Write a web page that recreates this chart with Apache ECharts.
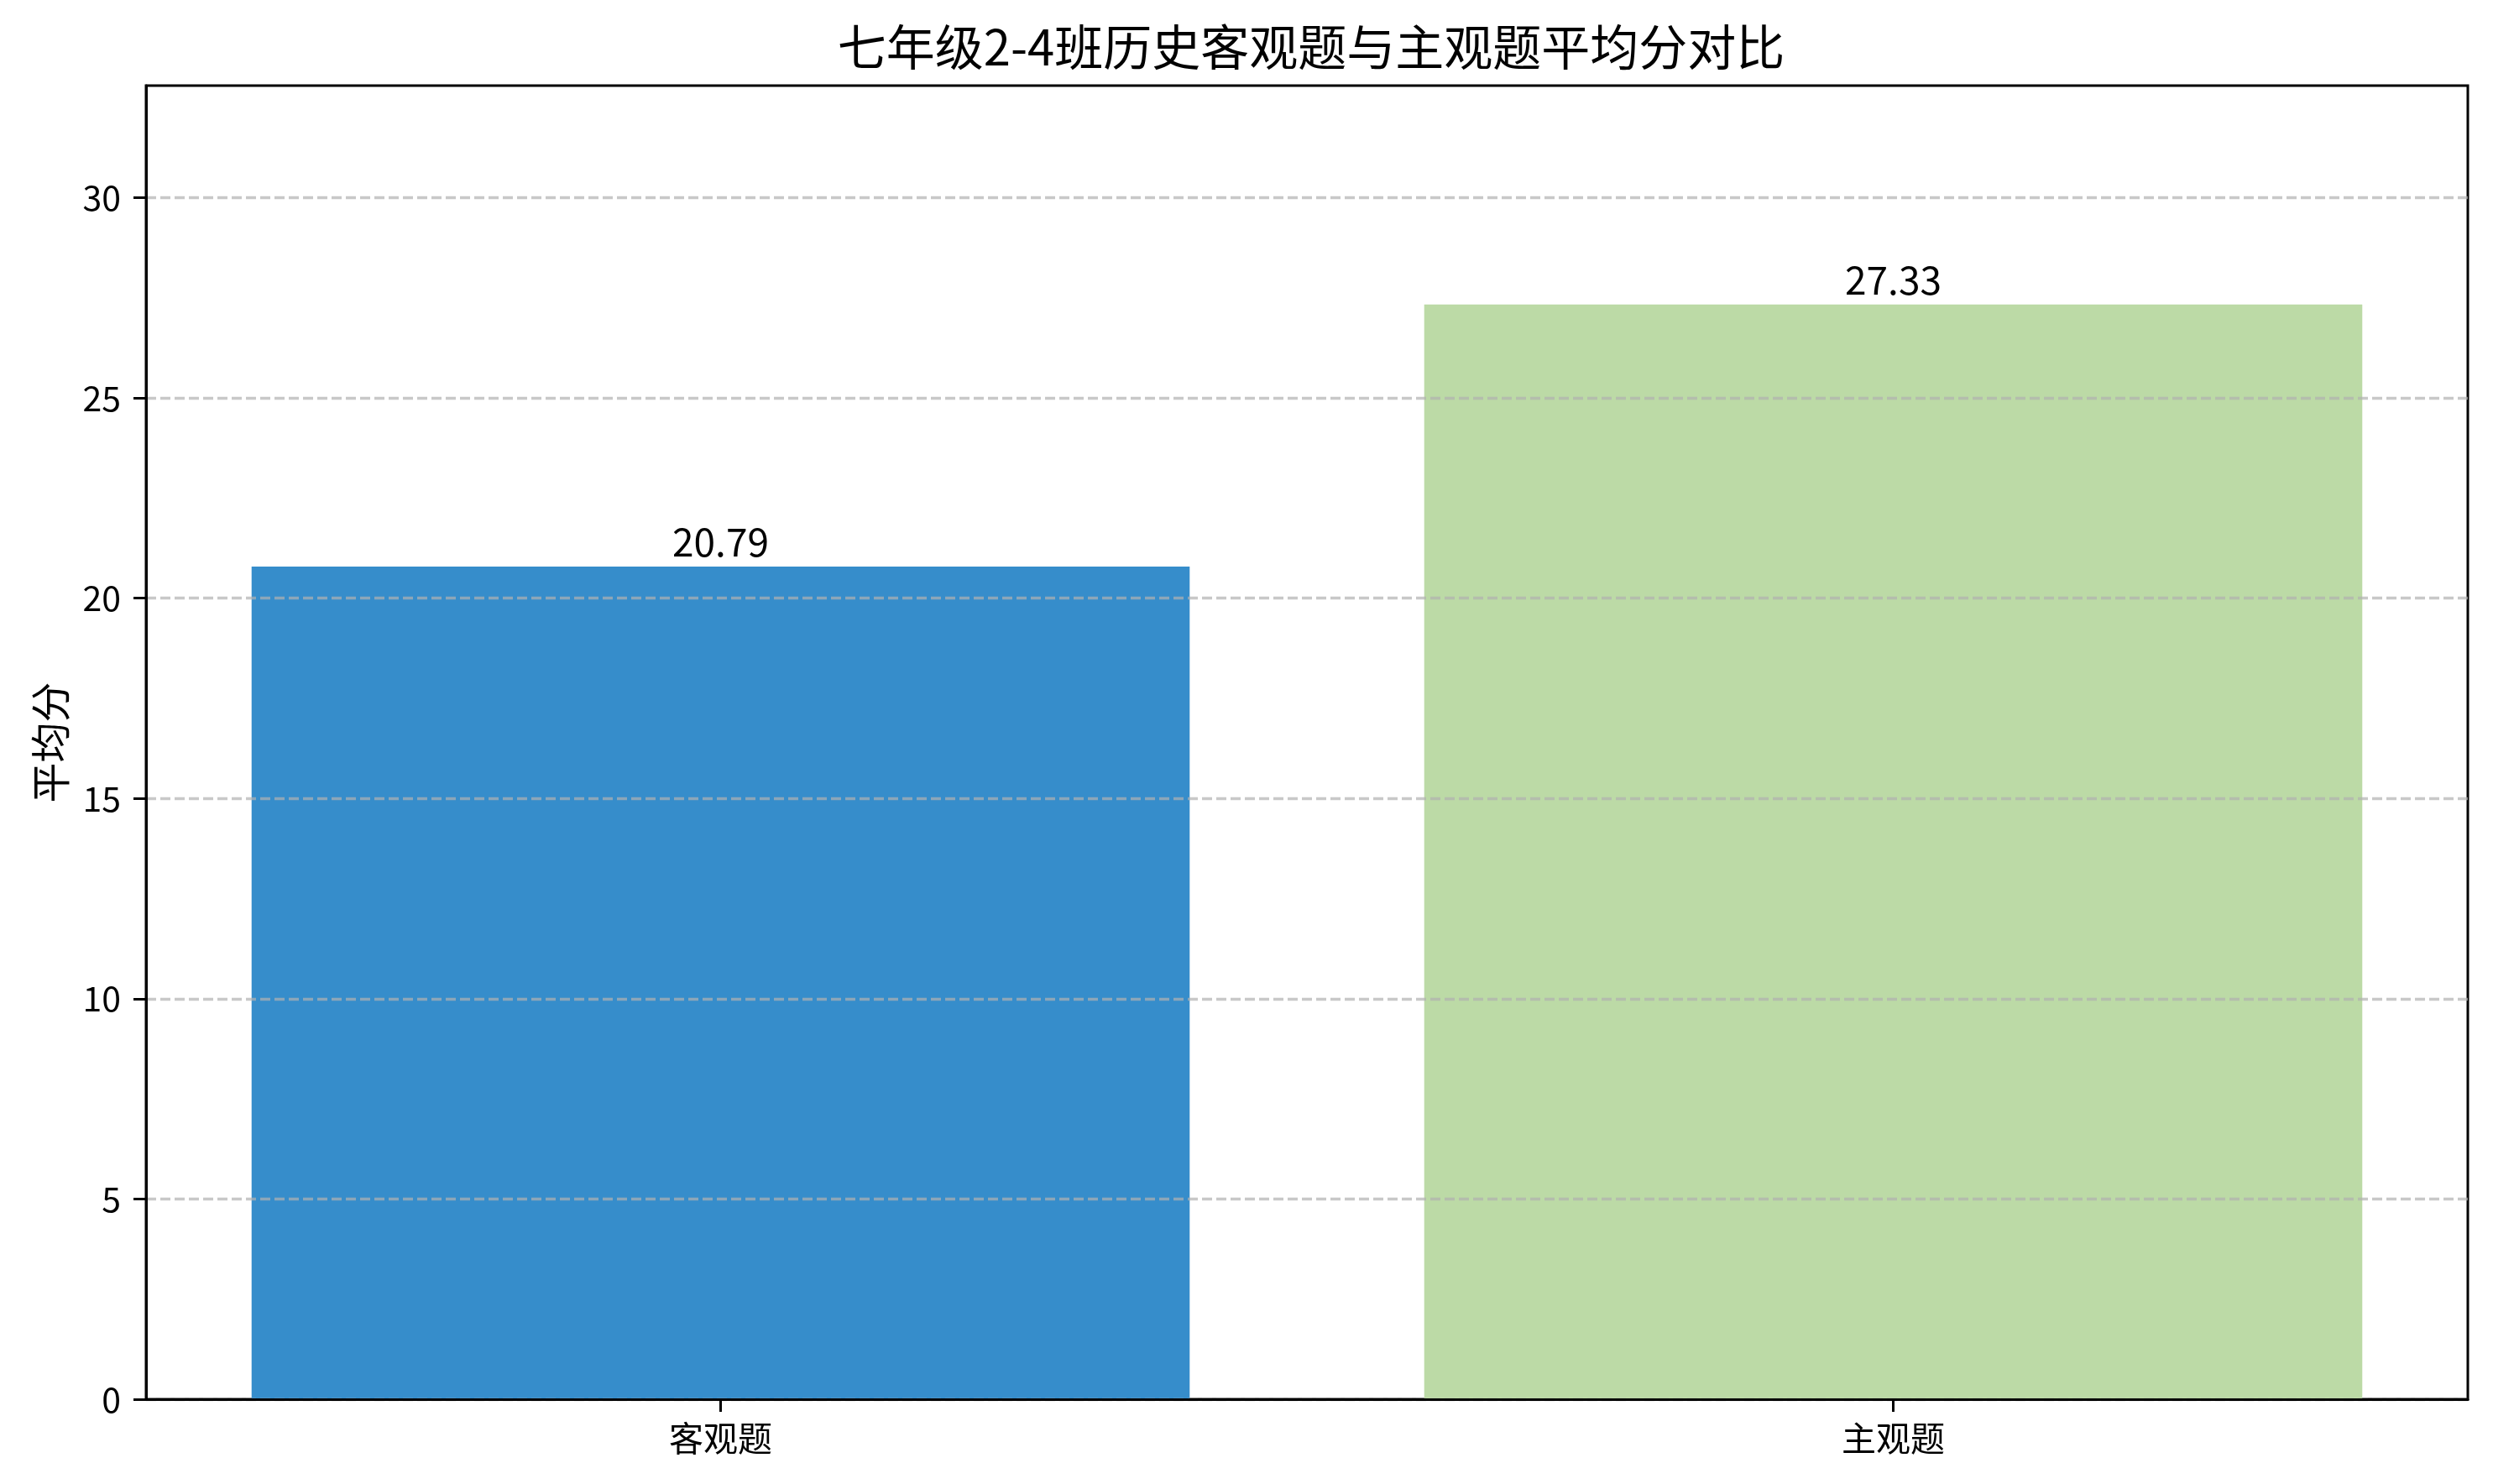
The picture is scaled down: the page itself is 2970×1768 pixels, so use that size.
<!DOCTYPE html>
<html>
<head>
<meta charset="utf-8">
<script src="https://cdn.jsdelivr.net/npm/echarts@6/dist/echarts.min.js"></script>
<style>
html,body{margin:0;padding:0;background:#fff;}
#c{width:2970px;height:1768px;}
</style>
</head>
<body>
<div id="c"></div>
<script>
const categories = ['客观题', '主观题'];
const values = [20.79, 27.33];
const barColors = ['#368dcb', '#bcdaa6'];
const yTicks = [0, 5, 10, 15, 20, 25, 30];
const titleText = '七年级2-4班历史客观题与主观题平均分对比';
const yName = '平均分';

const FONT = '"Noto Sans CJK SC", "Noto Sans", sans-serif';
const chart = echarts.init(document.getElementById('c'));
const positions = categories.map((_, i) => i);
const GRID = { left: 174, right: 30, top: 102, bottom: 101 };
const plotCenterX = GRID.left + (2970 - GRID.left - GRID.right) / 2;

chart.setOption({
  backgroundColor: '#ffffff',
  animation: false,
  title: {
    text: titleText,
    left: plotCenterX,
    textAlign: 'center',
    top: 22,
    textStyle: { fontFamily: FONT, fontSize: 58, fontWeight: 'normal', color: '#000' }
  },
  grid: Object.assign({
    show: true, borderColor: '#000', borderWidth: 3, backgroundColor: 'transparent'
  }, GRID),
  xAxis: {
    type: 'value',
    min: -0.49,
    max: 1.49,
    z: 11,
    splitLine: { show: false },
    axisLine: { show: true, onZero: false, lineStyle: { color: '#000', width: 3 } },
    axisTick: { show: true, customValues: positions, length: 15, lineStyle: { color: '#000', width: 3 } },
    axisLabel: {
      customValues: positions,
      formatter: v => categories[Math.round(v)] || '',
      fontFamily: FONT, fontSize: 41, color: '#000', margin: 26
    }
  },
  yAxis: {
    type: 'value',
    min: 0,
    max: Math.max(...values) * 1.2,
    interval: 5,
    z: 10,
    name: yName,
    nameLocation: 'middle',
    nameGap: 90,
    nameRotate: 90,
    nameTextStyle: { fontFamily: FONT, fontSize: 48, color: '#000' },
    axisLine: { show: true, onZero: false, lineStyle: { color: '#000', width: 3 } },
    axisTick: { show: true, customValues: yTicks, length: 15, lineStyle: { color: '#000', width: 3 } },
    axisLabel: {
      customValues: yTicks,
      fontFamily: FONT, fontSize: 41, color: '#000', margin: 30
    },
    splitLine: {
      show: true,
      lineStyle: { color: 'rgba(176,176,176,0.7)', width: 3.3, type: [12, 5] }
    }
  },
  series: [{
    type: 'bar',
    barWidth: '80%',
    data: values.map((v, i) => ({ value: [positions[i], v], itemStyle: { color: barColors[i] } })),
    label: {
      show: true,
      position: 'top',
      distance: 6,
      formatter: p => p.value[1].toFixed(2),
      fontFamily: FONT, fontSize: 46, color: '#000'
    }
  }]
});
</script>
</body>
</html>
